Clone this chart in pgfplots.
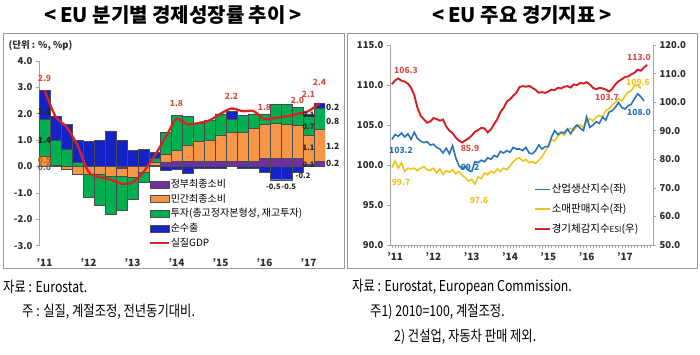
\documentclass[border=0pt]{standalone}
\usepackage{pgfplots}
\pgfplotsset{compat=1.18}
\usepackage{pgfplotstable}
\usepackage{fontspec}
\setmainfont{Noto Sans CJK KR}
\newfontfamily\notefont[FakeStretch=0.82]{Noto Sans CJK KR}
\definecolor{cgov}{RGB}{112,48,160}
\definecolor{cpriv}{RGB}{247,150,70}
\definecolor{cinv}{RGB}{0,176,80}
\definecolor{cnx}{RGB}{20,35,200}
\definecolor{cgdp}{RGB}{215,35,35}
\definecolor{clab}{RGB}{215,80,70}
\definecolor{cip}{RGB}{40,115,185}
\definecolor{cret}{RGB}{240,196,30}
\definecolor{cesi}{RGB}{215,30,35}
\definecolor{axgray}{RGB}{165,165,165}
\definecolor{tickc}{RGB}{45,45,45}

\pgfplotstableread{
q gov priv inv nx gdp
1 0.0 0.4 1.4 1.1 2.9
2 0.0 0.05 0.95 0.9 1.9
3 0.0 -0.1 0.65 0.95 1.5
4 0.0 -0.3 0.15 0.85 0.8
5 0.0 -0.3 -0.85 0.95 -0.2
6 0.0 -0.3 -1.15 1.0 -0.4
7 0.0 -0.35 -1.45 1.35 -0.5
8 -0.05 -0.3 -1.3 1.0 -0.65
9 0.0 -0.4 -0.85 0.6 -0.6
10 0.0 -0.2 -0.4 0.65 -0.2
11 0.05 0.1 0.15 0.25 0.4
12 0.15 0.3 0.85 -0.15 1.1
13 0.2 0.4 1.35 -0.1 1.8
14 0.2 0.6 1.1 -0.25 1.6
15 0.2 0.75 0.7 -0.05 1.65
16 0.2 0.8 0.75 -0.05 1.75
17 0.2 1.0 0.8 -0.05 2.0
18 0.2 1.1 0.5 0.3 2.2
19 0.2 1.1 0.65 -0.05 2.1
20 0.2 1.25 0.55 -0.05 2.1
21 0.3 1.3 0.4 -0.2 1.8
22 0.3 1.35 0.7 -0.5 1.85
23 0.3 1.3 0.75 -0.5 1.9
24 0.3 1.25 0.7 -0.2 2.0
25 0.1 1.1 0.7 0.1 2.1
26 0.2 1.2 0.8 0.2 2.4
}\gdpdata

\pgfplotstableread{
m v
0 103.2
1 103.8
2 103.6
3 104.0
4 103.5
5 103.9
6 103.2
7 104.1
8 103.3
9 103.0
10 102.8
11 102.9
12 102.5
13 102.6
14 102.2
15 102.0
16 101.5
17 102.1
18 101.4
19 102.4
20 100.9
21 99.9
22 99.5
23 99.8
24 99.3
25 99.2
26 100.4
27 100.3
28 100.6
29 100.4
30 100.9
31 100.7
32 101.2
33 101.0
34 101.7
35 101.5
36 101.8
37 101.6
38 102.2
39 102.0
40 102.0
41 101.8
42 102.2
43 101.5
44 101.4
45 101.8
46 102.5
47 102.0
48 102.3
49 102.3
50 103.5
51 104.3
52 103.8
53 104.1
54 104.0
55 104.5
56 103.9
57 104.6
58 105.0
59 104.6
60 104.3
61 106.0
62 104.7
63 105.0
64 105.4
65 105.2
66 106.0
67 105.6
68 106.6
69 106.8
70 107.2
71 107.8
72 107.2
73 107.0
74 107.4
75 107.6
76 108.3
77 108.9
78 108.5
79 108.0
}\ipdata

\pgfplotstableread{
m v
0 99.7
1 100.5
2 99.6
3 100.3
4 99.2
5 99.6
6 99.5
7 99.6
8 99.3
9 99.6
10 99.8
11 99.4
12 99.3
13 99.6
14 99.0
15 99.5
16 98.8
17 99.3
18 99.1
19 99.4
20 98.9
21 99.2
22 98.7
23 98.4
24 98.0
25 98.2
26 97.6
27 98.5
28 98.3
29 99.0
30 98.8
31 99.2
32 99.0
33 99.5
34 99.2
35 99.6
36 99.4
37 99.9
38 100.4
39 100.8
40 100.9
41 100.5
42 100.7
43 100.3
44 100.4
45 100.2
46 100.6
47 101.0
48 101.7
49 102.4
50 103.2
51 103.0
52 103.6
53 104.0
54 103.7
55 104.4
56 104.6
57 104.3
58 104.9
59 105.0
60 104.7
61 105.4
62 105.8
63 105.5
64 106.0
65 106.2
66 106.0
67 106.8
68 107.0
69 107.5
70 107.8
71 108.3
72 108.0
73 108.6
74 109.1
75 109.3
76 109.9
77 110.0
78 109.6
}\retdata

\pgfplotstableread{
m v
0 106.3
1 107.6
2 108.3
3 107.5
4 107.2
5 106.5
6 105.0
7 102.5
8 98.0
9 95.2
10 94.0
11 92.8
12 93.2
13 94.4
14 94.1
15 93.5
16 93.9
17 91.5
18 90.0
19 89.2
20 87.6
21 86.5
22 85.9
23 86.6
24 87.3
25 88.3
26 89.6
27 90.2
28 91.0
29 90.8
30 89.4
31 90.4
32 92.3
33 94.0
34 96.5
35 98.0
36 100.2
37 101.0
38 102.2
39 103.3
40 105.3
41 105.6
42 105.4
43 105.7
44 105.0
45 104.3
46 103.3
47 103.5
48 103.2
49 103.7
50 104.4
51 104.2
52 105.0
53 104.8
54 105.4
55 105.6
56 105.1
57 106.2
58 106.0
59 106.7
60 106.5
61 107.0
62 106.2
63 105.0
64 104.5
65 105.0
66 104.8
67 104.4
68 103.7
69 104.6
70 106.2
71 107.3
72 108.0
73 108.8
74 109.0
75 109.7
76 110.3
77 111.4
78 111.0
79 112.2
80 113.0
}\esidata

\pgfplotsset{
 leftax/.style={at={(39pt,109.3pt)}, anchor=south west, scale only axis,
   width=286pt, height=184.7pt, xmin=0.5, xmax=26.5, ymin=-3, ymax=4},
 rightax/.style={at={(390pt,110pt)}, anchor=south west, scale only axis,
   width=263pt, height=200pt, xmin=-0.6, xmax=81.8},
 barstyle/.style={draw=black!70, line width=0.45pt},
}
\tikzset{numlab/.style={font=\fontsize{8.5}{8.5}\selectfont\bfseries, inner sep=1pt},
  smlab/.style={font=\fontsize{7.5}{7.5}\selectfont\bfseries, inner sep=0.5pt}}

\begin{document}
\begin{tikzpicture}[x=1pt,y=1pt]
\fill[white] (0,0) rectangle (700,355);
\draw[black!40, line width=0.8pt] (3,87) rectangle (344,322);
\draw[black!40, line width=0.8pt] (347,87) rectangle (697,322);

\node[font=\fontsize{20}{20}\selectfont\bfseries] at (173,340) {<\,EU 분기별 경제성장률 추이\,>};
\node[font=\fontsize{20}{20}\selectfont\bfseries] at (522,340) {<\,EU 주요 경기지표\,>};

\node[anchor=west, font=\fontsize{9.5}{9.5}\selectfont\bfseries, text=tickc] at (5,309) {(단위 : \%, \%p)};

% ---------- left chart: positive parts ----------
\begin{axis}[leftax, ybar stacked, bar width=10.6pt,
  axis y line*=left, axis x line*=bottom,
  x axis line style={draw=none},
  y axis line style={axgray, line width=0.8pt},
  ytick={-3,-2,...,4},
  xtick={1,5,9,13,17,21,25},
  xticklabels={’11,’12,’13,’14,’15,’16,’17},
  xtick style={draw=none},
  ytick style={axgray, line width=0.6pt},
  tick align=outside, major tick length=3pt,
  yticklabel style={font=\fontsize{9.5}{9.5}\selectfont\bfseries, text=tickc,
    /pgf/number format/.cd, fixed, fixed zerofill, precision=1, assume math mode=true},
  xticklabel style={font=\fontsize{10}{10}\selectfont\bfseries, text=tickc, yshift=-6pt},
]
\addplot[barstyle, fill=cgov] table[x=q, y expr={max(\thisrow{gov},0)}]{\gdpdata};
\addplot[barstyle, fill=cpriv] table[x=q, y expr={max(\thisrow{priv},0)}]{\gdpdata};
\addplot[barstyle, fill=cinv] table[x=q, y expr={max(\thisrow{inv},0)}]{\gdpdata};
\addplot[barstyle, fill=cnx] table[x=q, y expr={max(\thisrow{nx},0)}]{\gdpdata};
\end{axis}

% ---------- left chart: negative parts ----------
\begin{axis}[leftax, ybar stacked, bar width=10.6pt, axis lines=none]
\addplot[barstyle, fill=cgov] table[x=q, y expr={min(\thisrow{gov},0)}]{\gdpdata};
\addplot[barstyle, fill=cpriv] table[x=q, y expr={min(\thisrow{priv},0)}]{\gdpdata};
\addplot[barstyle, fill=cinv] table[x=q, y expr={min(\thisrow{inv},0)}]{\gdpdata};
\addplot[barstyle, fill=cnx] table[x=q, y expr={min(\thisrow{nx},0)}]{\gdpdata};
\end{axis}

% ---------- left chart: GDP line, legend, labels ----------
\begin{axis}[leftax, axis lines=none, clip=false,
  legend style={at={(rel axis cs:0.374,0.375)}, anchor=north west, draw=none, fill=none,
    font=\fontsize{10}{10}\selectfont, row sep=3.6pt,
    nodes={inner sep=0.6pt, text height=8pt, text depth=2pt}},
  legend cell align=left,
]
\addlegendimage{legend image code/.code={\draw[fill=cgov,draw=black!70] (0pt,-3.5pt) rectangle (19pt,3.5pt);}}
\addlegendentry{정부최종소비}
\addlegendimage{legend image code/.code={\draw[fill=cpriv,draw=black!70] (0pt,-3.5pt) rectangle (19pt,3.5pt);}}
\addlegendentry{민간최종소비}
\addlegendimage{legend image code/.code={\draw[fill=cinv,draw=black!70] (0pt,-3.5pt) rectangle (19pt,3.5pt);}}
\addlegendentry{투자(총고정자본형성, 재고투자)}
\addlegendimage{legend image code/.code={\draw[fill=cnx,draw=black!70] (0pt,-3.5pt) rectangle (19pt,3.5pt);}}
\addlegendentry{순수출}
\addlegendimage{legend image code/.code={\draw[cgdp,line width=2pt] (0pt,0pt) -- (19pt,0pt);}}
\addlegendentry{실질GDP}
\addplot[cgdp, line width=2.3pt, smooth, tension=0.5, forget plot] table[x=q, y=gdp]{\gdpdata};

\node[numlab, text=clab] at (axis cs:1,3.35) {2.9};
\node[numlab, text=clab] at (axis cs:13,2.38) {1.8};
\node[numlab, text=clab] at (axis cs:18,2.65) {2.2};
\node[numlab, text=clab] at (axis cs:21,2.25) {1.8};
\node[numlab, text=clab] at (axis cs:24,2.5) {2.0};
\node[numlab, text=clab] at (axis cs:25,2.75) {2.1};
\node[numlab, text=clab] at (axis cs:26,3.2) {2.4};
\node[numlab, text=black!85] at (axis cs:1,2.1) {1.1};
\node[numlab, text=black!85] at (axis cs:1,1.0) {1.4};
\node[numlab, text=orange!80!black] at (axis cs:1,0.25) {0.5};
\node[numlab, text=black!60] at (axis cs:1,-0.05) {0.0};
\node[smlab, text=black!85] at (axis cs:21.8,-0.78) {-0.5};
\node[smlab, text=black!85] at (axis cs:23.2,-0.78) {-0.5};
\node[smlab, text=black!85] at (axis cs:24.5,-0.35) {-0.2};
\node[smlab, text=black!85] at (axis cs:25,1.95) {0.1};
\node[smlab, text=black!85] at (axis cs:25,1.5) {0.7};
\node[smlab, text=black!85] at (axis cs:25,0.7) {1.1};
\node[smlab, text=black!85] at (axis cs:25,0.05) {0.1};
\node[numlab, text=black!85] at (axis cs:27.2,2.25) {0.2};
\node[numlab, text=black!85] at (axis cs:27.2,1.72) {0.8};
\node[numlab, text=black!85] at (axis cs:27.2,0.75) {1.2};
\node[numlab, text=black!85] at (axis cs:27.2,0.13) {0.2};
\end{axis}

% ---------- right chart: left axis ----------
\begin{axis}[rightax, ymin=90, ymax=115,
  axis x line*=bottom, axis y line*=left,
  axis line style={axgray, line width=0.8pt},
  ytick={90,95,...,115},
  xtick={1,13,25,37,49,61,73},
  xticklabels={’11,’12,’13,’14,’15,’16,’17},
  minor xtick={0,1,...,81},
  tick style={axgray, line width=0.5pt},
  tick align=outside, major tick length=3pt,
  major x tick style={draw=none},
  minor x tick style={axgray, line width=0.4pt},
  minor tick length=3.5pt,
  yticklabel style={font=\fontsize{9.5}{9.5}\selectfont\bfseries, text=tickc,
    /pgf/number format/.cd, fixed, fixed zerofill, precision=1, assume math mode=true},
  xticklabel style={font=\fontsize{10}{10}\selectfont\bfseries, text=tickc, yshift=-1pt},
]
\addplot[cret, line width=1.6pt] table[x=m, y=v]{\retdata};
\addplot[cip, line width=1.6pt] table[x=m, y=v]{\ipdata};
\end{axis}

% ---------- right chart: right axis ----------
\begin{axis}[rightax, ymin=50, ymax=120,
  axis x line=none, axis y line*=right,
  axis line style={axgray, line width=0.8pt},
  ytick={50,60,...,120},
  tick style={axgray, line width=0.5pt},
  tick align=outside, major tick length=3pt,
  yticklabel style={font=\fontsize{9.5}{9.5}\selectfont\bfseries, text=tickc,
    /pgf/number format/.cd, fixed, fixed zerofill, precision=1, assume math mode=true},
  legend style={at={(rel axis cs:0.536,0.32)}, anchor=north west, draw=none, fill=none,
    font=\fontsize{10.5}{10.5}\selectfont, row sep=7pt,
    nodes={inner sep=0.6pt, text height=9pt, text depth=2.5pt}},
  legend cell align=left,
]
\addlegendimage{legend image code/.code={\draw[cip,line width=1.8pt] (0pt,0pt) -- (15pt,0pt);}}
\addlegendentry{산업생산지수(좌)}
\addlegendimage{legend image code/.code={\draw[cret,line width=1.8pt] (0pt,0pt) -- (15pt,0pt);}}
\addlegendentry{소매판매지수(좌)}
\addlegendimage{legend image code/.code={\draw[cesi,line width=2pt] (0pt,0pt) -- (15pt,0pt);}}
\addlegendentry{경기체감지수{\fontsize{8}{8}\selectfont ESI}(우)}
\addplot[cesi, line width=1.9pt, forget plot] table[x=m, y=v]{\esidata};
\end{axis}

% right chart value labels
\node[numlab, text=clab] at (406,285) {106.3};
\node[numlab, text=cip] at (401,205) {103.2};
\node[numlab, text=cret] at (401,173) {99.7};
\node[numlab, text=clab] at (470,207) {85.9};
\node[numlab, text=cip] at (470,188) {99.2};
\node[numlab, text=cret] at (479,155) {97.6};
\node[numlab, text=clab] at (639,298) {113.0};
\node[numlab, text=cret] at (638,273) {109.6};
\node[numlab, text=clab] at (607,258) {103.7};
\node[numlab, text=cip] at (639,243) {108.0};

% footnotes
\begin{scope}[every node/.style={anchor=west, font=\notefont\fontsize{15}{15}\selectfont, inner sep=0pt}]
\node at (3,68) {자료 : Eurostat.};
\node at (22,43) {주 : 실질, 계절조정, 전년동기대비.};
\node at (352,68) {자료 : Eurostat, European Commission.};
\node at (370,43) {주1) 2010=100, 계절조정.};
\node at (394,18) {2) 건설업, 자동차 판매 제외.};
\end{scope}
\end{tikzpicture}
\end{document}
